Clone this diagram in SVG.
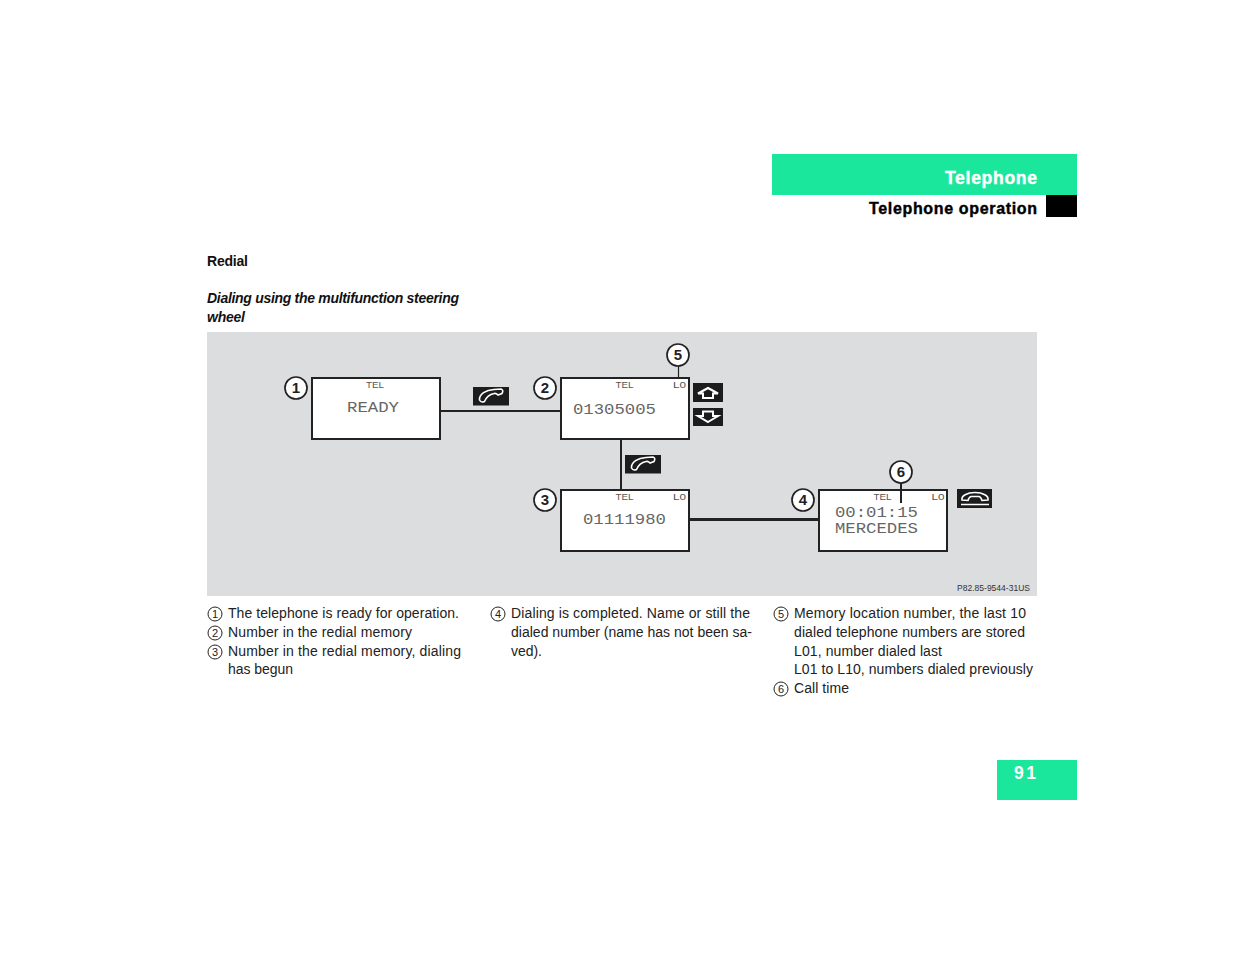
<svg xmlns="http://www.w3.org/2000/svg" width="1235" height="954" viewBox="0 0 1235 954">
<style>
text{font-family:"Liberation Sans",Arial,sans-serif}
.b{font-size:14px;fill:#222}
.d{fill:#fff;stroke:#222;stroke-width:2}
.c{stroke:#222;stroke-width:2;fill:none}
.n{fill:#fff;stroke:#222;stroke-width:1.700}
.nt{font-size:15px;font-weight:bold;fill:#222;text-anchor:middle}
.s{fill:none;stroke:#222;stroke-width:1}
.st{font-size:11px;fill:#222;text-anchor:middle}
.tel{font-size:9.500px;fill:#555}
.lcd{font-family:"Liberation Mono",monospace;font-size:15.500px;fill:#666}
.lcd2{font-family:"Liberation Mono",monospace;font-size:14px;fill:#666}
.k{fill:#1c1c1c}
.i{fill:none;stroke:#fff;stroke-width:1.600}
.hb{stroke-width:.4px}
</style>
<rect width="1235" height="954" fill="#fff"/>
<g id="header">
<rect x="772" y="154" width="305" height="41" fill="#1be79c"/>
<text class="hb" x="1037" y="184" text-anchor="end" font-size="17.500" font-weight="bold" fill="#fff" stroke="#fff" textLength="92">Telephone</text>
<text class="hb" x="1037" y="214" text-anchor="end" font-size="16" font-weight="bold" fill="#000" stroke="#000" textLength="168">Telephone operation</text>
<rect x="1046" y="195" width="31" height="22" fill="#000"/>
</g>
<text x="207" y="266" font-size="14" font-weight="bold" fill="#111" textLength="41">Redial</text>
<text x="207" y="303" font-size="14" font-weight="bold" font-style="italic" fill="#111" textLength="252">Dialing using the multifunction steering</text>
<text x="207" y="322" font-size="14" font-weight="bold" font-style="italic" fill="#111" textLength="38">wheel</text>
<rect id="panel" x="207" y="332" width="830" height="264" fill="#dcddde"/>
<g id="node1">
<rect class="d" x="312" y="378" width="128" height="61"/>
<text class="tel" x="366" y="388" textLength="18" lengthAdjust="spacingAndGlyphs">TEL</text>
<text class="lcd" x="347" y="412" textLength="52" lengthAdjust="spacingAndGlyphs">READY</text>
<circle class="n" cx="296" cy="388" r="11"/><text class="nt" x="296" y="393">1</text>
</g>
<g id="node2">
<rect class="d" x="561" y="378" width="128" height="61"/>
<text class="tel" x="615.500" y="388" textLength="18" lengthAdjust="spacingAndGlyphs">TEL</text><text class="tel" x="673" y="388" textLength="13" lengthAdjust="spacingAndGlyphs">L0</text>
<text class="lcd" x="573" y="414" textLength="83" lengthAdjust="spacingAndGlyphs">01305005</text>
<circle class="n" cx="545" cy="388" r="11"/><text class="nt" x="545" y="393">2</text>
</g>
<g id="node3">
<rect class="d" x="561" y="490" width="128" height="61"/>
<text class="tel" x="615.500" y="500" textLength="18" lengthAdjust="spacingAndGlyphs">TEL</text><text class="tel" x="673" y="500" textLength="13" lengthAdjust="spacingAndGlyphs">L0</text>
<text class="lcd" x="583" y="524" textLength="83" lengthAdjust="spacingAndGlyphs">01111980</text>
<circle class="n" cx="545" cy="500" r="11"/><text class="nt" x="545" y="505">3</text>
</g>
<g id="node4">
<rect class="d" x="819" y="490" width="128" height="61"/>
<text class="tel" x="873.500" y="500" textLength="18" lengthAdjust="spacingAndGlyphs">TEL</text><text class="tel" x="931.500" y="500" textLength="13" lengthAdjust="spacingAndGlyphs">L0</text>
<text class="lcd2" x="835" y="517" textLength="83" lengthAdjust="spacingAndGlyphs">00:01:15</text>
<text class="lcd2" x="835" y="533" textLength="83" lengthAdjust="spacingAndGlyphs">MERCEDES</text>
<circle class="n" cx="803" cy="500" r="11"/><text class="nt" x="803" y="505">4</text>
</g>
<g id="connectors">
<path class="c" d="M440 411H561"/>
<path class="c" d="M621 439V489"/>
<path class="c" style="stroke-width:2.800px" d="M689 519.500H819"/>
<path d="M678.500 366V379" stroke="#222" stroke-width="1.200" fill="none"/>
<path d="M901 483V503" stroke="#222" stroke-width="2" fill="none"/>
</g>
<g id="node5"><circle class="n" cx="678" cy="355" r="11"/><text class="nt" x="678" y="360">5</text></g>
<g id="node6"><circle class="n" cx="901" cy="472" r="11"/><text class="nt" x="901" y="477">6</text></g>
<g id="key-call-1">
<rect class="k" x="473" y="387" width="36" height="18.500"/>
<path class="i" d="M479.500 400C479 394 486 390 494 389.500L501 389Q504 390 502 393.500L498 395Q496 393 494 393.500C489 394.500 486 398 484.500 401.500Q481 403 479.500 400Z"/>
</g>
<g id="key-call-2">
<rect class="k" x="625" y="455" width="36" height="18.500"/>
<path class="i" d="M631.500 468C631 462 638 458 646 457.500L653 457Q656 458 654 461.500L650 463Q648 461 646 461.500C641 462.500 638 466 636.500 469.500Q633 471 631.500 468Z"/>
</g>
<g id="key-up">
<rect class="k" x="693" y="383" width="30" height="19"/>
<path d="M708 388L718 393.500H713V398H703V393.500H698Z" fill="none" stroke="#fff" stroke-width="2"/>
</g>
<g id="key-down">
<rect class="k" x="693" y="408" width="30" height="18"/>
<path d="M708 422L718 416H713V411.500H703V416H698Z" fill="none" stroke="#fff" stroke-width="2"/>
</g>
<g id="key-end">
<rect class="k" x="957" y="489" width="35" height="19"/>
<path class="i" d="M962 500C961 496 967 492.500 975 492.500C983 492.500 989 496 988 500L982 500.500Q981 497 979 496.500H971Q969 497 968 500.500Z"/>
<path d="M961 504.500H989" stroke="#fff" stroke-width="1.500"/>
</g>
<text x="1030" y="591" text-anchor="end" font-size="8.500" fill="#333" textLength="73">P82.85-9544-31US</text>
<g id="legend">
<circle class="s" cx="215" cy="614" r="7"/><text class="st" x="215" y="618">1</text>
<circle class="s" cx="215" cy="633" r="7"/><text class="st" x="215" y="637">2</text>
<circle class="s" cx="215" cy="652" r="7"/><text class="st" x="215" y="656">3</text>
<text class="b" x="228" y="618" textLength="231">The telephone is ready for operation.</text>
<text class="b" x="228" y="637" textLength="184">Number in the redial memory</text>
<text class="b" x="228" y="656" textLength="233">Number in the redial memory, dialing</text>
<text class="b" x="228" y="674" textLength="65">has begun</text>
<circle class="s" cx="498" cy="614" r="7"/><text class="st" x="498" y="618">4</text>
<text class="b" x="511" y="618" textLength="239">Dialing is completed. Name or still the</text>
<text class="b" x="511" y="637" textLength="241">dialed number (name has not been sa-</text>
<text class="b" x="511" y="656" textLength="31">ved).</text>
<circle class="s" cx="781" cy="614" r="7"/><text class="st" x="781" y="618">5</text>
<text class="b" x="794" y="618" textLength="232">Memory location number, the last 10</text>
<text class="b" x="794" y="637" textLength="231">dialed telephone numbers are stored</text>
<text class="b" x="794" y="656" textLength="148">L01, number dialed last</text>
<text class="b" x="794" y="674" textLength="239">L01 to L10, numbers dialed previously</text>
<circle class="s" cx="781" cy="689" r="7"/><text class="st" x="781" y="693">6</text>
<text class="b" x="794" y="693" textLength="55">Call time</text>
</g>
<g id="page">
<rect x="997" y="760" width="80" height="40" fill="#1be79c"/>
<text x="1036" y="779" text-anchor="end" font-size="17.500" font-weight="bold" fill="#fff" textLength="22">91</text>
</g>
</svg>
